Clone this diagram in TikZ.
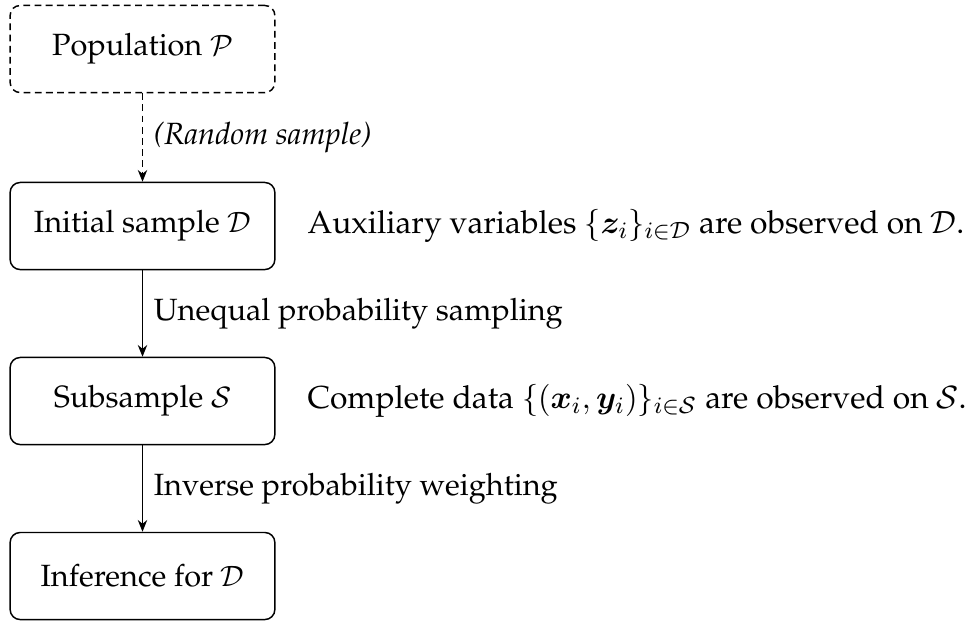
\documentclass[tikz,border=0pt]{standalone}
\usepackage{amsmath}
\usepackage[T1]{fontenc}
\usepackage{palatino}
\usepackage{bm}
\usetikzlibrary{arrows.meta}
\tikzset{
  every node/.style={font=\fontsize{10.45pt}{12.5pt}\selectfont},
  stage/.style={draw, rounded corners=3.4pt, minimum width=90pt, minimum height=29.6pt, line width=0.5pt, inner sep=0pt},
  dashedstage/.style={stage, dash pattern=on 2.3pt off 1.5pt},
  flow/.style={-{Stealth[length=4pt,width=3.2pt]}, line width=0.5pt},
  edgelabel/.style={right, inner sep=3.6pt},
  note/.style={anchor=west, inner sep=0pt, font=\fontsize{10.8pt}{12.9pt}\selectfont}
}
\begin{document}
\begin{tikzpicture}[x=0.34pt,y=-0.34pt]
\useasboundingbox (0,0) rectangle (971,622);
\node[dashedstage] (pop) at (142.5,49) {Population $\mathcal{P}$};
\node[stage] (init) at (142.5,226) {Initial sample $\mathcal{D}$};
\node[stage] (sub) at (142.5,401) {Subsample $\mathcal{S}$};
\node[stage] (inf) at (142.5,576) {Inference for $\mathcal{D}$};
\draw[flow, dash pattern=on 2.3pt off 1.5pt] (pop) -- node[edgelabel] {\itshape (Random sample)} (init);
\draw[flow] (init) -- node[edgelabel] {Unequal probability sampling} (sub);
\draw[flow] (sub) -- node[edgelabel] {Inverse probability weighting} (inf);
\node[note] (auxnote) at (307,226) {Auxiliary variables $\{\bm{z}_i\}_{i\in\mathcal{D}}$ are observed on $\mathcal{D}$.};
\node[note] (compnote) at (307,401) {Complete data $\{(\bm{x}_i,\bm{y}_i)\}_{i\in\mathcal{S}}$ are observed on $\mathcal{S}$.};
\end{tikzpicture}
\end{document}
